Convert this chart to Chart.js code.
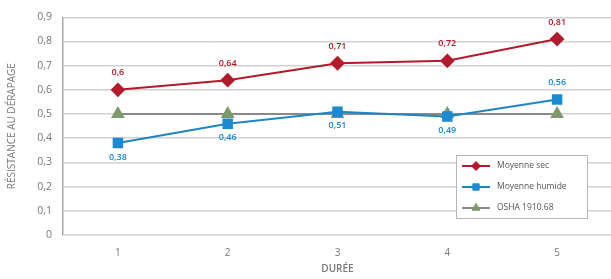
<!DOCTYPE html>
<html>
<head>
<meta charset="utf-8">
<script src="https://cdn.jsdelivr.net/npm/chart.js@4/dist/chart.umd.min.js"></script>
<style>
  html, body { margin: 0; padding: 0; background: #fff; overflow: hidden; }
  #wrap { width: 620px; height: 279px; }
</style>
</head>
<body>
<div id="wrap"><canvas id="myChart" width="620" height="279"></canvas></div>
<script>
const durees = ["1", "2", "3", "4", "5"];
const moyenneSec = [0.6, 0.64, 0.71, 0.72, 0.81];
const moyenneHumide = [0.38, 0.46, 0.51, 0.49, 0.56];
const osha = [0.5, 0.5, 0.5, 0.5, 0.5];
const yTicks = [0, 0.1, 0.2, 0.3, 0.4, 0.5, 0.6, 0.7, 0.8, 0.9];
const seriesNames = ["Moyenne sec", "Moyenne humide", "OSHA 1910.68"];
// where the value labels sit for each point
const secLabelPos = ["above", "above", "above", "above", "above"];
const humideLabelPos = ["below", "below", "below", "below", "above"];

const FONT = "'Open Sans', Lato, sans-serif";
const fmt = v => String(v).replace(".", ",");

const valueLabels = {
  id: "valueLabels",
  afterDatasetsDraw(chart) {
    const ctx = chart.ctx;
    ctx.save();
    ctx.font = "600 9px " + FONT;
    ctx.textAlign = "center";
    ctx.textBaseline = "middle";
    [[0, secLabelPos, "#a8192a"], [1, humideLabelPos, "#1b87cc"]].forEach(([di, pos, col]) => {
      const meta = chart.getDatasetMeta(di);
      const data = chart.data.datasets[di].data;
      ctx.fillStyle = col;
      meta.data.forEach((pt, i) => {
        const dy = pos[i] === "above" ? -17 : 14;
        ctx.fillText(fmt(data[i]), pt.x, pt.y + dy);
      });
    });
    ctx.restore();
  }
};

const boxLegend = {
  id: "boxLegend",
  afterDraw(chart) {
    const ctx = chart.ctx;
    const x0 = 456, y0 = 155, w = 131, h = 63;
    ctx.save();
    ctx.fillStyle = "#fff";
    ctx.fillRect(x0, y0, w, h);
    ctx.strokeStyle = "#b8b8b8";
    ctx.lineWidth = 1;
    ctx.strokeRect(x0 + 0.5, y0 + 0.5, w, h);
    chart.data.datasets.forEach((ds, i) => {
      const y = y0 + 11 + i * 21;
      ctx.strokeStyle = ds.borderColor;
      ctx.lineWidth = 2;
      ctx.beginPath();
      ctx.moveTo(x0 + 6, y);
      ctx.lineTo(x0 + 34, y);
      ctx.stroke();
      ctx.fillStyle = ds.pointBackgroundColor;
      ctx.strokeStyle = ds.pointBackgroundColor;
      ctx.lineWidth = 1;
      Chart.helpers.drawPoint(ctx, { pointStyle: ds.pointStyle, radius: 4.5, rotation: 0, borderWidth: 1 }, x0 + 20, y);
      ctx.fillStyle = "#555";
      ctx.font = "8.5px " + FONT;
      ctx.textAlign = "left";
      ctx.textBaseline = "middle";
      ctx.fillText(ds.label, x0 + 41, y);
    });
    ctx.restore();
  }
};

new Chart(document.getElementById("myChart"), {
  type: "line",
  data: {
    labels: durees,
    datasets: [
      {
        label: seriesNames[0], data: moyenneSec,
        borderColor: "#b31b2c", borderWidth: 2,
        pointStyle: "rectRot", pointRadius: 6,
        pointBackgroundColor: "#b31b2c", pointBorderColor: "#b31b2c"
      },
      {
        label: seriesNames[1], data: moyenneHumide,
        borderColor: "#1f86c6", borderWidth: 2,
        pointStyle: "rect", pointRadius: 6,
        pointBackgroundColor: "#1b8ad3", pointBorderColor: "#1b8ad3"
      },
      {
        label: seriesNames[2], data: osha,
        borderColor: "#8a8a8a", borderWidth: 2,
        pointStyle: "triangle", pointRadius: 6,
        pointBackgroundColor: "#7d9a6c", pointBorderColor: "#7d9a6c"
      }
    ]
  },
  options: {
    responsive: false,
    animation: false,
    layout: { padding: { top: 14, left: 0, right: 0, bottom: 0 } },
    plugins: { legend: { display: false }, tooltip: { enabled: false } },
    scales: {
      x: {
        offset: true,
        grid: { display: false, drawTicks: false },
        border: { display: false },
        ticks: { color: "#777", font: { family: FONT, size: 10 }, padding: 12 },
        title: { display: true, text: "DURÉE", color: "#777", font: { family: FONT, size: 10, weight: "600" }, padding: { top: 3 } },
        afterFit(s) { s.height = 44; }
      },
      y: {
        min: 0, max: 0.9,
        afterBuildTicks(s) { s.ticks = yTicks.map(v => ({ value: v })); },
        grid: { color: "#d2d2d2", lineWidth: 1.5, drawTicks: false },
        border: { display: true, color: "#aaa", width: 1.5 },
        ticks: { color: "#777", font: { family: FONT, size: 10.5 }, padding: 11, callback: v => fmt(v) },
        title: { display: true, text: "RÉSISTANCE AU DÉRAPAGE", color: "#777", font: { family: FONT, size: 10 }, padding: { top: 6, bottom: 0 } },
        afterFit(s) { s.width = 63; }
      }
    }
  },
  plugins: [valueLabels, boxLegend]
});
</script>
</body>
</html>
